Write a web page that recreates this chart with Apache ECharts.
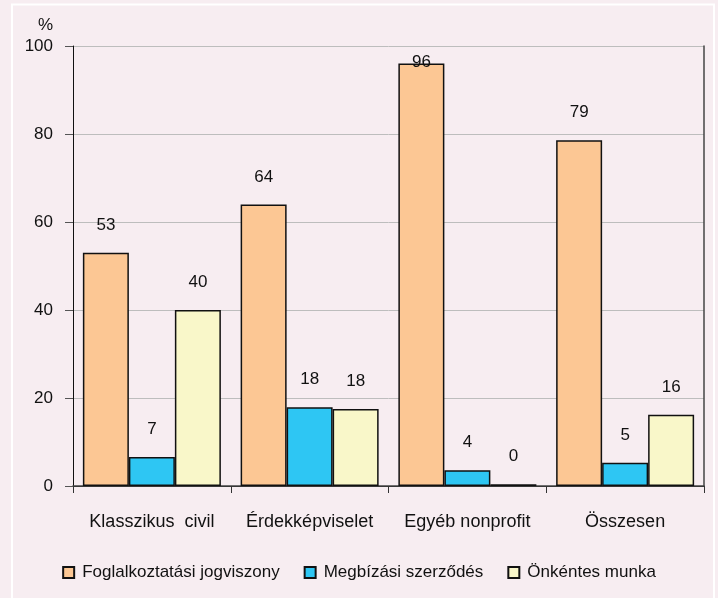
<!DOCTYPE html>
<html>
<head>
<meta charset="utf-8">
<script src="https://cdn.jsdelivr.net/npm/echarts@6/dist/echarts.min.js"></script>
<style>
  html, body { margin: 0; padding: 0; background: #F7EDF1; }
  #chart { width: 718px; height: 598px; }
</style>
</head>
<body>
<div id="chart"></div>
<script>
const categories = ['Klasszikus  civil', 'Érdekképviselet', 'Egyéb nonprofit', 'Összesen']
const seriesNames = ['Foglalkoztatási jogviszony', 'Megbízási szerződés', 'Önkéntes munka']
const foglalkoztatasi = [53, 64, 96, 78.6]
const megbizasi = [6.6, 17.9, 3.6, 5.3]
const onkentes = [40, 17.5, 0.4, 16.2]
const colors = ['#FCC794', '#2EC6F3', '#F9F7C9']

const font = '"Liberation Sans", Arial, sans-serif'

const chart = echarts.init(document.getElementById('chart'))

function makeSeries(name, values, color) {
  return {
    name: name,
    type: 'bar',
    barWidth: 46,
    barGap: '0%',
    data: values.map(v => {
      // label of the tallest bar sits on the bar top (no room above)
      if (v > 90) return { value: v, label: { distance: -7 } }
      return v
    }),
    itemStyle: { color: color, borderColor: '#111', borderWidth: 1.5 },
    label: {
      show: true,
      position: 'top',
      distance: 19,
      color: '#111',
      fontFamily: font,
      fontSize: 17,
      formatter: p => Math.round(p.value)
    }
  }
}

chart.setOption({
  backgroundColor: '#F7EDF1',
  animation: false,
  title: {
    text: '%',
    left: 33,
    top: 12,
    textStyle: { fontFamily: font, fontSize: 17, fontWeight: 'normal', color: '#111' }
  },
  graphic: [{
    type: 'rect',
    shape: { x: 12, y: 4.5, width: 702, height: 700 },
    style: { fill: 'none', stroke: '#ffffff', lineWidth: 2 },
    silent: true
  }],
  legend: {
    data: seriesNames,
    bottom: 12,
    left: 'center',
    itemWidth: 11,
    itemHeight: 11,
    itemGap: 24,
    icon: 'rect',
    textStyle: { fontFamily: font, fontSize: 17, color: '#111', padding: [0, 0, 0, 3] }
  },
  grid: { left: 73, right: 14, top: 46, bottom: 112 },
  xAxis: [{
    type: 'category',
    data: categories,
    axisLine: { lineStyle: { color: '#111', width: 1 } },
    axisTick: { show: true, interval: 0, length: 7, lineStyle: { color: '#333' } },
    axisLabel: { interval: 0, margin: 27, fontFamily: font, fontSize: 18, color: '#111' }
  }, {
    // top frame line
    type: 'category',
    position: 'top',
    data: categories,
    axisLine: { lineStyle: { color: '#444', width: 1.5 } },
    axisTick: { show: false },
    axisLabel: { show: false }
  }],
  yAxis: [{
    type: 'value',
    min: 0,
    max: 100,
    interval: 20,
    axisLine: { show: true, lineStyle: { color: '#111' } },
    axisTick: { show: true, length: 8, lineStyle: { color: '#555' } },
    axisLabel: { margin: 20, fontFamily: font, fontSize: 17, color: '#111' },
    splitLine: { lineStyle: { color: '#BDBDBD', width: 1 } }
  }, {
    // right frame line
    type: 'value',
    position: 'right',
    min: 0,
    max: 100,
    interval: 20,
    axisLine: { show: true, lineStyle: { color: '#444', width: 1.5 } },
    axisTick: { show: false },
    axisLabel: { show: false },
    splitLine: { show: false }
  }],
  series: [
    makeSeries(seriesNames[0], foglalkoztatasi, colors[0]),
    makeSeries(seriesNames[1], megbizasi, colors[1]),
    makeSeries(seriesNames[2], onkentes, colors[2])
  ]
})
</script>
</body>
</html>
